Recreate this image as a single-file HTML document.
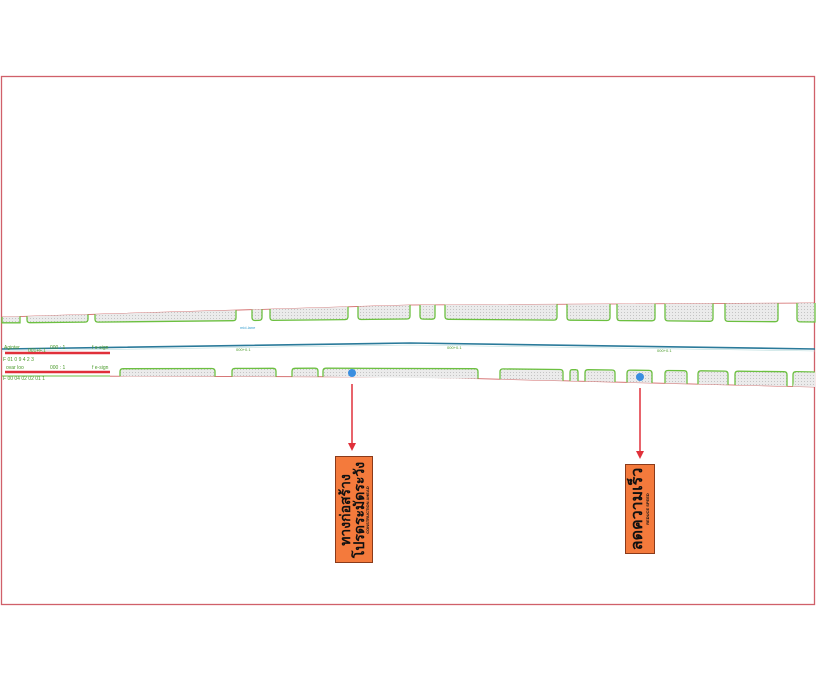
<!DOCTYPE html>
<html><head><meta charset="utf-8"><style>
html,body{margin:0;padding:0;background:#fff;}
body{width:823px;height:690px;overflow:hidden;position:relative;font-family:"Liberation Sans",sans-serif;}
.sign{position:absolute;background:#f47a3c;border:1px solid #8a3a1a;box-sizing:border-box;}
.sign .t{position:absolute;left:50%;top:50%;transform:translate(-50%,-50%) rotate(-90deg);white-space:nowrap;text-align:center;color:#111;font-weight:bold;line-height:1;}
</style></head><body>
<svg width="823" height="690" style="position:absolute;left:0;top:0">
<defs>
<pattern id="h" width="3" height="3" patternUnits="userSpaceOnUse"><rect width="3" height="3" fill="#ebebeb"/><rect width="1" height="1" fill="#c4c4c4"/></pattern>
</defs>
<rect x="1.5" y="76.5" width="813" height="528" fill="none" stroke="#d0606a" stroke-width="1.3"/>
<path d="M2,317 L410,305 L815,303" stroke="#d06060" stroke-width="0.8" fill="none"/>
<g fill="url(#h)" stroke="#6cc040" stroke-width="1.3">
<path d="M2,317 L2,322.8 L20,322.8 Q20,322.8 20,316.4"/>
<path d="M27,316.2 L27,319.7 Q27,322.7 30,322.7 L85,322.1 Q88,322.1 88,319.1 L88,314.4"/>
<path d="M95,314.2 L95,319.1 Q95,322.1 98,322.1 L233,320.7 Q236,320.7 236,317.7 L236,310.1"/>
<path d="M252,309.6 L252,317.5 Q252,320.5 255,320.5 L259,320.4 Q262,320.4 262,317.4 L262,309.3"/>
<path d="M270,309.1 L270,317.4 Q270,320.4 273,320.4 L345,319.6 Q348,319.6 348,316.6 L348,306.8"/>
<path d="M358,306.5 L358,316.5 Q358,319.5 361,319.5 L407,319 Q410,319 410,316 L410,305"/>
<path d="M420,305 L420,316.1 Q420,319.1 423,319.1 L432,319.2 Q435,319.2 435,316.2 L435,304.9"/>
<path d="M445,304.8 L445,316.3 Q445,319.3 448,319.3 L554,320.1 Q557,320.1 557,317.1 L557,304.3"/>
<path d="M567,304.2 L567,317.2 Q567,320.2 570,320.2 L607,320.5 Q610,320.5 610,317.5 L610,304"/>
<path d="M617,304 L617,317.6 Q617,320.6 620,320.6 L652,320.8 Q655,320.8 655,317.8 L655,303.8"/>
<path d="M665,303.8 L665,317.9 Q665,320.9 668,320.9 L710,321.3 Q713,321.3 713,318.3 L713,303.5"/>
<path d="M725,303.5 L725,318.4 Q725,321.4 728,321.4 L775,321.7 Q778,321.7 778,318.7 L778,303.2"/>
<path d="M797,303.1 L797,318.9 Q797,321.9 800,321.9 L815,322 L815,303"/>
</g>
<path d="M2,349 L410,343 L815,349" stroke="#2a7a9a" stroke-width="1.6" fill="none"/>
<path d="M2,351 L410,345 L815,351" stroke="#bdd" stroke-width="0.6" fill="none"/>
<path d="M110,376.2 L410,377 L815,387" stroke="#d06060" stroke-width="0.8" fill="none"/>
<g fill="url(#h)" stroke="#6cc040" stroke-width="1.3">
<path d="M120,376.3 L120,371.7 Q120,368.7 123,368.7 L212,368.5 Q215,368.5 215,371.5 L215,376.5"/>
<path d="M232,376.6 L232,371.4 Q232,368.4 235,368.4 L273,368.3 Q276,368.3 276,371.3 L276,376.7"/>
<path d="M292,376.7 L292,371.3 Q292,368.3 295,368.3 L315,368.2 Q318,368.2 318,371.2 L318,376.8"/>
<path d="M323,376.8 L323,371.2 Q323,368.2 326,368.2 L475,368.7 Q478,368.7 478,371.7 L478,378.7"/>
<path d="M500,379.2 L500,371.9 Q500,368.9 503,368.9 L560,369.5 Q563,369.5 563,372.5 L563,380.8"/>
<path d="M570,380.9 L570,372.6 Q570,369.6 572,369.6 L576,369.7 Q578,369.7 578,372.7 L578,381.1"/>
<path d="M585,381.3 L585,372.7 Q585,369.7 588,369.7 L612,370 Q615,370 615,373 L615,382"/>
<path d="M627,382.4 L627,373.1 Q627,370.1 630,370.1 L649,370.4 Q652,370.4 652,373.4 L652,383"/>
<path d="M665,383.3 L665,373.5 Q665,370.5 668,370.5 L684,370.7 Q687,370.7 687,373.7 L687,383.8"/>
<path d="M698,384.1 L698,373.8 Q698,370.8 701,370.8 L725,371.1 Q728,371.1 728,374.1 L728,384.9"/>
<path d="M735,385 L735,374.2 Q735,371.2 738,371.2 L784,371.7 Q787,371.7 787,374.7 L787,386.3"/>
<path d="M793,386.5 L793,374.7 Q793,371.7 796,371.7 L815,372"/>
</g>
<polygon points="793,386.5 815,387 815,372.5 796,372.3" fill="url(#h)"/>
<line x1="5" y1="353" x2="110" y2="353" stroke="#e0303a" stroke-width="2.5"/>
<line x1="5" y1="372" x2="110" y2="372" stroke="#e0303a" stroke-width="2.5"/>
<line x1="2" y1="376" x2="110" y2="376" stroke="#6cc040" stroke-width="1"/>
<g font-size="5" fill="#4a9a2a">
<text x="4" y="349">Aginter</text><text x="50" y="349">000 : 1</text><text x="92" y="349">f e-sign</text>
<text x="28" y="352">001+F.1</text>
<text x="3" y="361">F 01    0     9     4     2     3</text>
<text x="6" y="369">ovar loo</text><text x="50" y="369">000 : 1</text><text x="92" y="369">f e-sign</text>
<text x="3" y="380">F 00   04    02    02    01    1</text>
</g>
<g font-size="4" fill="#4a9a2a">
<text x="236" y="351">000+0.1</text><text x="447" y="349">000+0.1</text><text x="657" y="352">000+0.1</text>
</g>
<text x="240" y="329" font-size="4" fill="#3aa0d0">mid-lane</text>
<circle cx="352" cy="373" r="4" fill="#3a8ee0"/>
<circle cx="640" cy="377" r="4" fill="#3a8ee0"/>
<line x1="352" y1="384" x2="352" y2="444" stroke="#e0303a" stroke-width="1.5"/>
<polygon points="348,443 356,443 352,451" fill="#e0303a"/>
<line x1="640" y1="388" x2="640" y2="452" stroke="#e0303a" stroke-width="1.5"/>
<polygon points="636,451 644,451 640,459" fill="#e0303a"/>
</svg>
<div class="sign" style="left:335px;top:456px;width:38px;height:107px;">
<div class="t"><div style="font-size:14px">ทางก่อสร้าง</div><div style="font-size:14px">โปรดระมัดระวัง</div><div style="font-size:4px">CONSTRUCTION AHEAD</div></div>
</div>
<div class="sign" style="left:625px;top:464px;width:30px;height:90px;">
<div class="t"><div style="font-size:16px">ลดความเร็ว</div><div style="font-size:4px">REDUCE SPEED</div></div>
</div>
</body></html>
